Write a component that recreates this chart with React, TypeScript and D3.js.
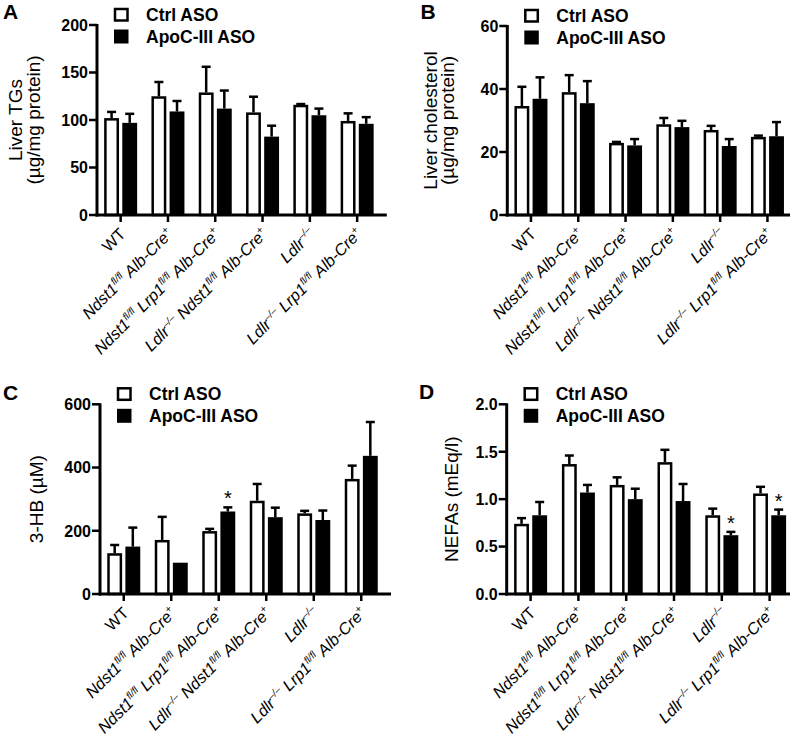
import React from 'react';
import * as d3 from 'd3';

const FONT = '"Liberation Sans", Arial, Helvetica, sans-serif';

const genotypes = ['WT', 'Ndst1 Alb-Cre', 'Ndst1 Lrp1 Alb-Cre', 'Ldlr Ndst1 Alb-Cre', 'Ldlr', 'Ldlr Lrp1 Alb-Cre'];
const series = ['Ctrl ASO', 'ApoC-III ASO'];

// label pieces: n = upright, i = italic, s = superscript
const genotypeLabels: [string, string][][] = [
  [['WT', 'n']],
  [['Ndst1', 'i'], ['fl/fl', 's'], [' Alb-Cre', 'i'], ['+', 's']],
  [['Ndst1', 'i'], ['fl/fl', 's'], [' Lrp1', 'i'], ['fl/fl', 's'], [' Alb-Cre', 'i'], ['+', 's']],
  [['Ldlr', 'i'], ['–/–', 's'], [' Ndst1', 'i'], ['fl/fl', 's'], [' Alb-Cre', 'i'], ['+', 's']],
  [['Ldlr', 'i'], ['–/–', 's']],
  [['Ldlr', 'i'], ['–/–', 's'], [' Lrp1', 'i'], ['fl/fl', 's'], [' Alb-Cre', 'i'], ['+', 's']],
];

// A - liver TGs
const tgCtrl = [102, 125, 129, 108, 116, 99];
const tgCtrlSem = [6.5, 15, 27, 16.5, 0.8, 8];
const tgApoc = [97, 109, 112, 82.5, 105, 96];
const tgApocSem = [9.5, 11, 19, 11.5, 7, 7];
const tgSig = [false, false, false, false, false, false];
const tgTicks = [0, 50, 100, 150, 200];

// B - liver cholesterol
const cholCtrl = [34.6, 39, 22.9, 28.8, 27, 24.8];
const cholCtrlSem = [6.1, 5.4, 0.3, 2, 1.3, 0.4];
const cholApoc = [36.9, 35.5, 22.1, 27.9, 21.9, 25];
const cholApocSem = [6.8, 7, 2, 2, 2.2, 4.5];
const cholSig = [false, false, false, false, false, false];
const cholTicks = [0, 20, 40, 60];

// C - 3-HB
const hbCtrl = [129, 171, 199, 295, 255, 364];
const hbCtrlSem = [26, 73, 7, 53, 8, 42];
const hbApoc = [150, 99, 261, 243, 234, 437];
const hbApocSem = [60, 0, 13, 30, 30, 107];
const hbSig = [false, false, true, false, false, false];
const hbTicks = [0, 200, 400, 600];

// D - NEFAs
const nefaCtrl = [0.74, 1.37, 1.15, 1.39, 0.83, 1.06];
const nefaCtrlSem = [0.06, 0.09, 0.08, 0.13, 0.07, 0.07];
const nefaApoc = [0.83, 1.07, 1.0, 0.98, 0.62, 0.83];
const nefaApocSem = [0.14, 0.08, 0.11, 0.18, 0.035, 0.06];
const nefaSig = [false, false, false, false, true, true];
const nefaTicks = [0, 0.5, 1, 1.5, 2];

const LABEL_SIZE = 16.3;
const SUP_SIZE = 10;

const GenotypeLabel = ({ pieces, x, y }: { pieces: [string, string][]; x: number; y: number }) => {
  let raised = false;
  return (
    <text
      transform={`translate(${x},${y}) rotate(-45)`}
      textAnchor="end"
      fontFamily={FONT}
      fontSize={LABEL_SIZE}
      fill="#000"
    >
      {pieces.map(([t, kind], i) => {
        let dy = 0;
        if (kind === 's' && !raised) { dy = -6.5; raised = true; }
        else if (kind !== 's' && raised) { dy = 6.5; raised = false; }
        return (
          <tspan
            key={i}
            dy={dy}
            fontSize={kind === 's' ? SUP_SIZE : LABEL_SIZE}
            fontStyle={kind === 'n' ? 'normal' : 'italic'}
          >
            {t}
          </tspan>
        );
      })}
    </text>
  );
};

type PanelProps = {
  letter: string;
  letterPos: [number, number];
  title: string[];
  titleX: number[];
  ctrl: number[];
  ctrlSem: number[];
  apoc: number[];
  apocSem: number[];
  sig: boolean[];
  ticks: number[];
  fmt: (v: number) => string;
  x0: number;
  top: number;
  bottom: number;
  step: number;
};

const BarPanel = (p: PanelProps) => {
  const yMax = p.ticks[p.ticks.length - 1];
  const y = d3.scaleLinear().domain([0, yMax]).range([p.bottom, p.top]);
  const x = d3.scaleBand().domain(genotypes).range([p.x0, p.x0 + 6 * p.step]);
  const x1 = d3.scaleBand().domain(series).range([0, 33]).paddingInner(0.18);
  const bw = x1.bandwidth();
  const axisEnd = Math.min(p.x0 + 6 * p.step + 6, 790);
  const titleMid = (p.top + p.bottom) / 2;

  const bars = genotypes.flatMap((g, i) => {
    const c = (x(g) as number) + x.bandwidth() / 2 - 16.5;
    return [
      { key: g + 'c', s: series[0], x: c + (x1(series[0]) as number), v: p.ctrl[i], e: p.ctrlSem[i], sig: false },
      { key: g + 'a', s: series[1], x: c + (x1(series[1]) as number), v: p.apoc[i], e: p.apocSem[i], sig: p.sig[i] },
    ];
  });

  return (
    <g>
      <text x={p.letterPos[0]} y={p.letterPos[1]} fontFamily={FONT} fontWeight="bold" fontSize={21}>
        {p.letter}
      </text>
      {p.title.map((t, i) => (
        <text
          key={i}
          transform={`translate(${p.titleX[i]},${titleMid}) rotate(-90)`}
          textAnchor="middle"
          fontFamily={FONT}
          fontSize={19}
        >
          {t}
        </text>
      ))}

      {/* bars */}
      {bars.map(b => (
        <g key={b.key}>
          {b.e > 0 && (
            <g stroke="#000" strokeWidth={2.5}>
              <line x1={b.x + bw / 2} x2={b.x + bw / 2} y1={y(b.v)} y2={y(b.v + b.e)} />
              <line x1={b.x + bw / 2 - 4.5} x2={b.x + bw / 2 + 4.5} y1={y(b.v + b.e)} y2={y(b.v + b.e)} />
            </g>
          )}
          {b.s === series[0] ? (
            <rect
              x={b.x + 1.25}
              y={y(b.v) + 1.25}
              width={bw - 2.5}
              height={Math.max(0, p.bottom - y(b.v) - 1.25)}
              fill="#fff"
              stroke="#000"
              strokeWidth={2.5}
            />
          ) : (
            <rect x={b.x} y={y(b.v)} width={bw} height={p.bottom - y(b.v)} fill="#000" />
          )}
          {b.sig && (
            <text
              x={b.x + bw / 2}
              y={y(b.v + b.e) - 2}
              textAnchor="middle"
              fontFamily={FONT}
              fontSize={20}
            >
              *
            </text>
          )}
        </g>
      ))}

      {/* y axis */}
      <line x1={p.x0} x2={p.x0} y1={p.top - 1} y2={p.bottom + 1.5} stroke="#000" strokeWidth={3} />
      {p.ticks.map(t => (
        <g key={t}>
          <line x1={p.x0 - 8} x2={p.x0} y1={y(t)} y2={y(t)} stroke="#000" strokeWidth={2.5} />
          <text
            x={p.x0 - 9}
            y={y(t) + 5.8}
            textAnchor="end"
            fontFamily={FONT}
            fontWeight="bold"
            fontSize={16}
          >
            {p.fmt(t)}
          </text>
        </g>
      ))}

      {/* x axis */}
      <line x1={p.x0 - 1.5} x2={axisEnd} y1={p.bottom} y2={p.bottom} stroke="#000" strokeWidth={3} />
      {genotypes.map((g, i) => {
        const cx = (x(g) as number) + x.bandwidth() / 2;
        return (
          <g key={g}>
            <line x1={cx} x2={cx} y1={p.bottom} y2={p.bottom + 7} stroke="#000" strokeWidth={2.5} />
            <GenotypeLabel pieces={genotypeLabels[i]} x={cx + 6} y={p.bottom + 20} />
          </g>
        );
      })}

      {/* legend */}
      <rect x={p.x0 + 18} y={p.top - 16} width={12.5} height={11.5} fill="#fff" stroke="#000" strokeWidth={2.5} />
      <text x={p.x0 + 49} y={p.top - 4.5} fontFamily={FONT} fontWeight="bold" fontSize={17.5}>
        {series[0]}
      </text>
      <rect x={p.x0 + 17} y={p.top + 4.5} width={14.5} height={14} fill="#000" />
      <text x={p.x0 + 49} y={p.top + 18} fontFamily={FONT} fontWeight="bold" fontSize={17.5}>
        {series[1]}
      </text>
    </g>
  );
};

const intFmt = d3.format('d');
const decFmt = d3.format('.1f');

export default function App() {
  return (
    <svg
      width={793}
      height={740}
      style={{ position: 'absolute', left: 0, top: 0, background: '#fff' }}
    >
      <BarPanel
        letter="A"
        letterPos={[3, 18.5]}
        title={['Liver TGs', '(µg/mg protein)']}
        titleX={[22, 40]}
        ctrl={tgCtrl}
        ctrlSem={tgCtrlSem}
        apoc={tgApoc}
        apocSem={tgApocSem}
        sig={tgSig}
        ticks={tgTicks}
        fmt={intFmt}
        x0={97}
        top={25}
        bottom={215}
        step={47.3}
      />
      <BarPanel
        letter="B"
        letterPos={[420.5, 18.5]}
        title={['Liver cholesterol', '(µg/mg protein)']}
        titleX={[436.5, 453.5]}
        ctrl={cholCtrl}
        ctrlSem={cholCtrlSem}
        apoc={cholApoc}
        apocSem={cholApocSem}
        sig={cholSig}
        ticks={cholTicks}
        fmt={intFmt}
        x0={507.3}
        top={26}
        bottom={215}
        step={47.3}
      />
      <BarPanel
        letter="C"
        letterPos={[3, 400]}
        title={['3-HB (µM)']}
        titleX={[43]}
        ctrl={hbCtrl}
        ctrlSem={hbCtrlSem}
        apoc={hbApoc}
        apocSem={hbApocSem}
        sig={hbSig}
        ticks={hbTicks}
        fmt={intFmt}
        x0={100}
        top={404.3}
        bottom={594}
        step={47.5}
      />
      <BarPanel
        letter="D"
        letterPos={[419, 398.5]}
        title={['NEFAs (mEq/l)']}
        titleX={[458]}
        ctrl={nefaCtrl}
        ctrlSem={nefaCtrlSem}
        apoc={nefaApoc}
        apocSem={nefaApocSem}
        sig={nefaSig}
        ticks={nefaTicks}
        fmt={decFmt}
        x0={506.7}
        top={404.3}
        bottom={594}
        step={47.8}
      />
    </svg>
  );
}
